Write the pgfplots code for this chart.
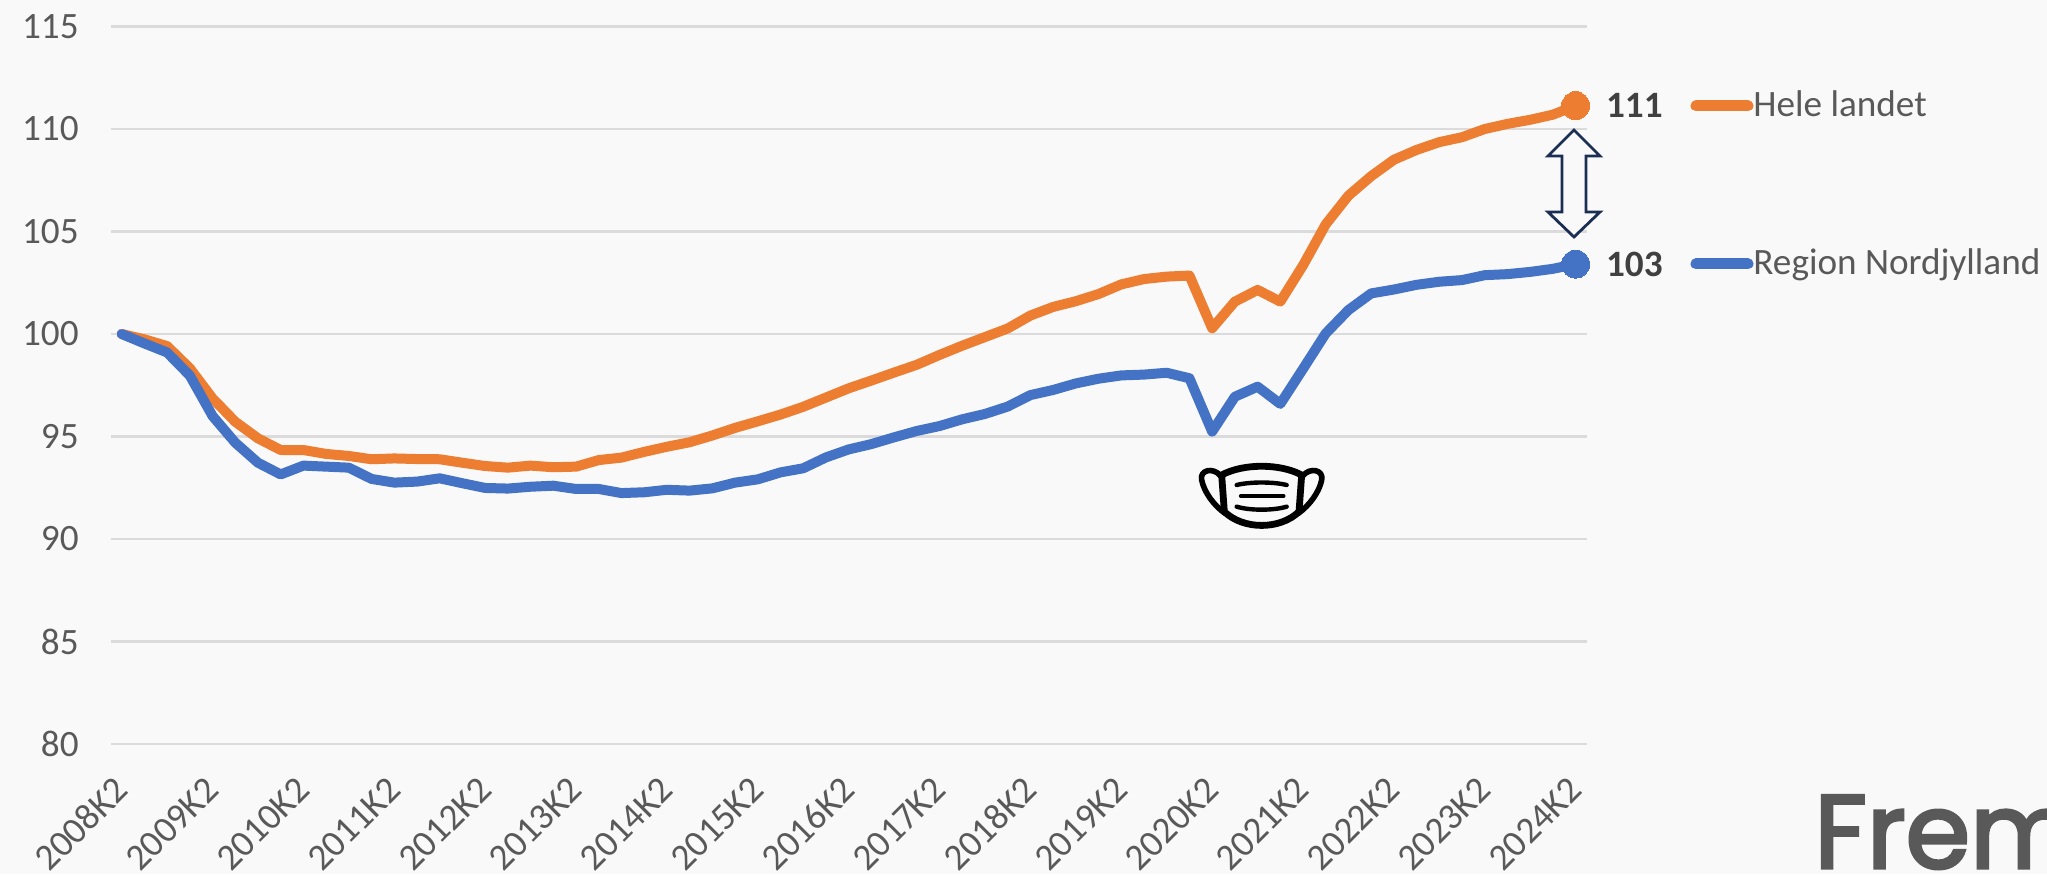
\documentclass[border=0pt]{standalone}
\usepackage{fontspec}
\setmainfont{Carlito}
\newfontfamily\logofont{Poppins}[RawFeature={embolden=3}]
\usepackage{pgfplots}
\usepackage{pgfplotstable}
\pgfplotsset{compat=1.18}
\definecolor{bgc}{HTML}{F9F9F9}
\definecolor{gridc}{HTML}{DBDBDB}
\definecolor{txtc}{HTML}{595959}
\definecolor{lblc}{HTML}{404040}
\definecolor{org}{HTML}{ED7D31}
\definecolor{blu}{HTML}{4472C4}
\definecolor{navy}{HTML}{1B2F55}
\pgfplotstableread{
i hele nord
0 100.00 100.00
1 99.74 99.54
2 99.41 99.10
3 98.33 97.97
4 96.86 96.00
5 95.72 94.70
6 94.91 93.72
7 94.34 93.15
8 94.34 93.58
9 94.15 93.53
10 94.05 93.48
11 93.89 92.93
12 93.93 92.75
13 93.90 92.80
14 93.89 92.96
15 93.72 92.72
16 93.56 92.49
17 93.48 92.46
18 93.58 92.55
19 93.50 92.60
20 93.53 92.44
21 93.85 92.44
22 93.97 92.24
23 94.25 92.28
24 94.50 92.40
25 94.72 92.36
26 95.05 92.47
27 95.42 92.75
28 95.74 92.91
29 96.07 93.25
30 96.45 93.45
31 96.90 93.98
32 97.35 94.37
33 97.73 94.63
34 98.12 94.96
35 98.50 95.27
36 98.98 95.51
37 99.43 95.84
38 99.85 96.10
39 100.27 96.46
40 100.90 97.02
41 101.32 97.27
42 101.60 97.59
43 101.95 97.82
44 102.42 97.98
45 102.68 98.02
46 102.80 98.11
47 102.85 97.84
48 100.28 95.24
49 101.58 96.94
50 102.15 97.43
51 101.58 96.59
52 103.35 98.30
53 105.35 100.03
54 106.75 101.17
55 107.70 101.98
56 108.50 102.17
57 108.98 102.40
58 109.36 102.55
59 109.60 102.63
60 110.00 102.87
61 110.25 102.92
62 110.45 103.03
63 110.70 103.18
64 111.14 103.41
}\datatable
\begin{document}
\begin{tikzpicture}
\clip (0,0) rectangle (1023.5pt,437pt);
\fill[bgc] (0,0) rectangle (1023.5pt,437pt);
\begin{axis}[
  at={(55.5pt,65pt)}, anchor=south west,
  scale only axis, width=738pt, height=358.75pt,
  xmin=-0.47, xmax=64.5, ymin=80, ymax=115,
  xtick={0,4,...,64},
  xticklabels={2008K2,2009K2,2010K2,2011K2,2012K2,2013K2,2014K2,2015K2,2016K2,2017K2,2018K2,2019K2,2020K2,2021K2,2022K2,2023K2,2024K2},
  ytick={80,85,...,115},
  ymajorgrids, grid style={gridc,line width=1.1pt},
  axis line style={draw=none}, tick style={draw=none},
  clip=false,
  tick label style={font=\fontsize{18.6}{22}\selectfont,text=txtc,inner sep=0pt},
  /pgf/number format/assume math mode=true,
  xticklabel style={rotate=45,anchor=east,xshift=-13.9pt,yshift=-13.9pt},
  yticklabel style={anchor=east},
  yticklabel shift=16pt,
]
\addplot[org,line width=5pt,line join=round,line cap=round] table[x=i,y=hele] {\datatable};
\addplot[blu,line width=5pt,line join=round,line cap=round] table[x=i,y=nord] {\datatable};
\addplot[only marks,mark=*,mark size=7pt,mark options={fill=org,draw=org,line width=0pt}] coordinates {(64,111.14)};
\addplot[only marks,mark=*,mark size=7pt,mark options={fill=blu,draw=blu,line width=0pt}] coordinates {(64,103.41)};
\node[anchor=west,inner sep=0pt,text=lblc,font=\fontsize{18.6}{22}\selectfont\bfseries] at (axis cs:64,111.14) [xshift=15pt] {111};
\node[anchor=west,inner sep=0pt,text=lblc,font=\fontsize{18.6}{22}\selectfont\bfseries] at (axis cs:64,103.41) [xshift=15pt] {103};
\end{axis}
\begin{scope}[x=0.5pt,y=-0.5pt,yshift=437pt]
% legend
\draw[org,line width=5.5pt,line cap=round] (1696,106) -- (1748,106);
\draw[blu,line width=5.5pt,line cap=round] (1696,264) -- (1748,264);
\node[anchor=base west,inner sep=0pt,text=txtc,font=\fontsize{18.6}{22}\selectfont] at (1753,117) {Hele landet};
\node[anchor=base west,inner sep=0pt,text=txtc,font=\fontsize{18.6}{22}\selectfont] at (1753,275) {Region Nordjylland};
% double arrow
\draw[navy,line width=1.4pt,fill=bgc,line join=miter] (1574,130) -- (1600,156) -- (1586,156) -- (1586,212) -- (1600,212) -- (1574,237) -- (1548,212) -- (1562,212) -- (1562,156) -- (1548,156) -- cycle;
% logo
\node[anchor=base west,inner sep=0pt,text=txtc,font=\fontsize{52}{60}\logofont] at (1814,868) {Frem};
\end{scope}
% face mask icon
\begin{scope}[yshift=437pt,shift={(550pt,-125pt)},x=0.16667pt,y=-0.16667pt,black,line cap=round,line join=round]
\draw[line width=3.4pt] (365,675) .. controls (430,640) and (540,640) .. (605,675) -- (597,785) .. controls (540,840) and (430,840) .. (373,785) -- cycle;
\draw[line width=2.8pt] (362,678) .. controls (340,650) and (298,660) .. (305,690) .. controls (312,725) and (340,765) .. (375,790);
\draw[line width=2.8pt] (608,678) .. controls (630,650) and (672,660) .. (665,690) .. controls (658,725) and (630,765) .. (595,790);
\draw[line width=2.2pt] (410,705) .. controls (450,695) and (520,695) .. (560,705);
\draw[line width=2.2pt] (423,738) -- (550,738);
\draw[line width=2.2pt] (410,770) .. controls (450,782) and (520,782) .. (560,770);
\end{scope}
\end{tikzpicture}
\end{document}
